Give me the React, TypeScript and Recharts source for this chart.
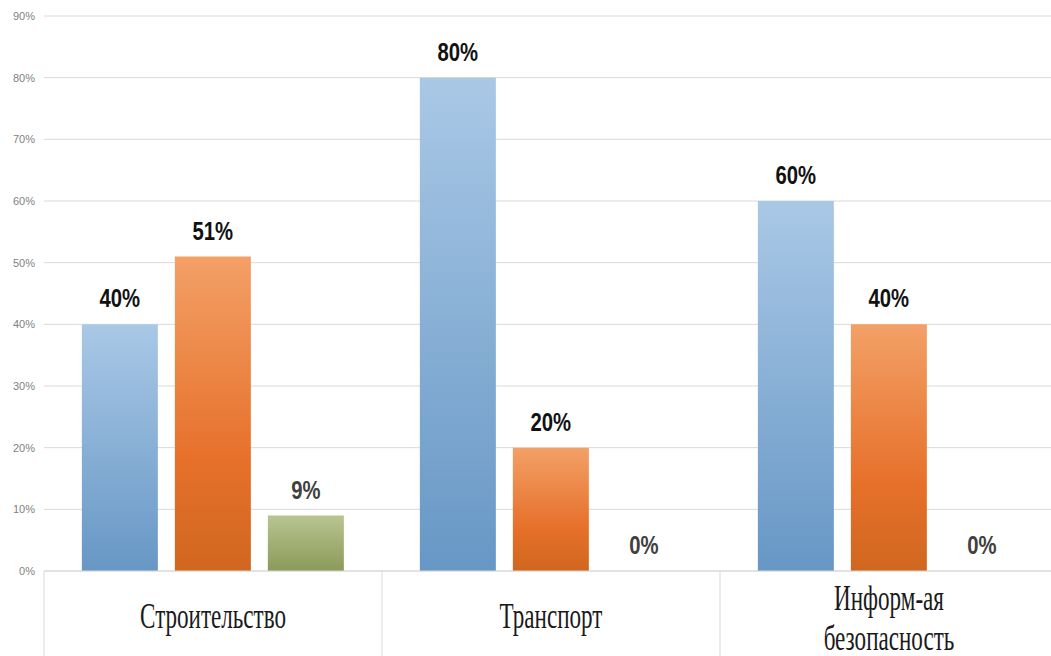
import { BarChart, Bar, XAxis, YAxis, CartesianGrid, LabelList } from 'recharts'

const categories = ['Строительство', 'Транспорт', 'Информ-ая безопасность']
const seriesA = [40, 80, 60]
const seriesB = [51, 20, 40]
const seriesC = [9, 0, 0]
const yTicks = [0, 10, 20, 30, 40, 50, 60, 70, 80, 90]

const data = categories.map((name, i) => ({ name, a: seriesA[i], b: seriesB[i], c: seriesC[i] }))

const CHART_W = 1066
const CHART_H = 656
const MARGIN = { top: 16, right: 8, bottom: 0, left: 0 }
const Y_W = 44
const HALF_BAND = (CHART_W - MARGIN.left - MARGIN.right - Y_W) / categories.length / 2

const XTick = (props: any) => {
  const { x, y, payload, index } = props
  const words = String(payload.value).split(' ')
  const first = words.length > 1 ? 39 : 57
  return (
    <g>
      <line x1={x - HALF_BAND} y1={y} x2={x - HALF_BAND} y2={y + 100} stroke="#d9d9d9" />
      {index === categories.length - 1 && (
        <line x1={x + HALF_BAND} y1={y} x2={x + HALF_BAND} y2={y + 100} stroke="#d9d9d9" />
      )}
      {words.map((w: string, i: number) => (
        <text
          key={i}
          transform={`translate(${x},${y + first + i * 40}) scale(0.66,1)`}
          textAnchor="middle"
          fontFamily="'Liberation Serif', serif"
          fontSize={35}
          fill="#1a1a1a"
        >
          {w}
        </text>
      ))}
    </g>
  )
}

// condensed bold value label above each bar
const makeLabel = (fill: string) => (props: any) => {
  const { x, y, width, value } = props
  if (value == null) return null
  return (
    <text
      transform={`translate(${Number(x) + Number(width) / 2},${Number(y) - 17}) scale(0.78,1)`}
      textAnchor="middle"
      fontFamily="'Liberation Sans', 'DejaVu Sans', sans-serif"
      fontWeight={700}
      fontSize={26}
      fill={fill}
    >
      {`${value}%`}
    </text>
  )
}

export default function App() {
  return (
    <div style={{ position: 'absolute', left: 0, top: 0, width: 1051, height: 656, overflow: 'hidden', background: '#fff' }}>
      <BarChart
        width={CHART_W}
        height={CHART_H}
        data={data}
        margin={MARGIN}
        barCategoryGap="11.2%"
        barGap={17}
      >
        <defs>
          <linearGradient id="gBlue" x1="0" y1="0" x2="0" y2="1">
            <stop offset="0%" stopColor="#a9c8e6" />
            <stop offset="100%" stopColor="#6797c5" />
          </linearGradient>
          <linearGradient id="gOrange" x1="0" y1="0" x2="0" y2="1">
            <stop offset="0%" stopColor="#f3a067" />
            <stop offset="65%" stopColor="#e6702a" />
            <stop offset="100%" stopColor="#d0671f" />
          </linearGradient>
          <linearGradient id="gGreen" x1="0" y1="0" x2="0" y2="1">
            <stop offset="0%" stopColor="#b8c591" />
            <stop offset="100%" stopColor="#8b9a5a" />
          </linearGradient>
        </defs>
        <CartesianGrid vertical={false} stroke="#d9d9d9" />
        <XAxis
          dataKey="name"
          interval={0}
          tickLine={false}
          tickSize={0}
          tickMargin={0}
          axisLine={{ stroke: '#d9d9d9' }}
          height={CHART_H - MARGIN.top - 555}
          tick={<XTick />}
        />
        <YAxis
          width={Y_W}
          domain={[0, 90]}
          ticks={yTicks}
          interval={0}
          axisLine={false}
          tickLine={false}
          tickSize={0}
          tickMargin={9}
          tickFormatter={(v: number) => `${v}%`}
          tick={{ fontFamily: "'Liberation Sans', sans-serif", fontSize: 11, fill: '#7f7f7f' }}
        />
        <Bar dataKey="a" fill="url(#gBlue)" isAnimationActive={false}>
          <LabelList dataKey="a" content={makeLabel('#111')} />
        </Bar>
        <Bar dataKey="b" fill="url(#gOrange)" isAnimationActive={false}>
          <LabelList dataKey="b" content={makeLabel('#111')} />
        </Bar>
        <Bar dataKey="c" fill="url(#gGreen)" minPointSize={0.01} isAnimationActive={false}>
          <LabelList dataKey="c" content={makeLabel('#404040')} />
        </Bar>
      </BarChart>
    </div>
  )
}
